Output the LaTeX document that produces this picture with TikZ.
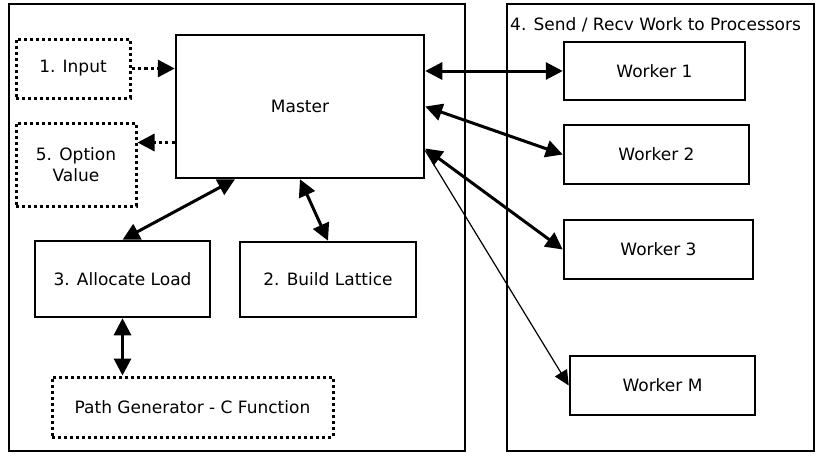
\documentclass[tikz,border=0pt]{standalone}
\usepackage{fontspec}
\setmainfont{DejaVu Sans}
\usepackage{tikz}
\usetikzlibrary{arrows.meta}

\tikzset{
  box/.style={draw, line width=2.5pt, inner sep=0pt, align=center,
    font=\fontsize{17}{21}\selectfont},
  dotbox/.style={box, line width=3pt, dash pattern=on 3pt off 3pt},
  frame/.style={draw, line width=2.5pt},
  link/.style={line width=3pt, {Triangle[length=17pt,width=17pt]}-{Triangle[length=17pt,width=17pt]}},
  dotlink/.style={line width=3.2pt, dash pattern=on 3.2pt off 3.2pt, -{Triangle[length=17pt,width=17pt]}},
  thinlink/.style={line width=1.2pt, -{Triangle[length=15pt,width=14pt]}}
}

\begin{document}
\begin{tikzpicture}[x=1pt,y=-1pt]
    \useasboundingbox (0,0) rectangle (816,455);
    % frames
    \draw[frame] (9,4) rectangle (465,451);
    \draw[frame] (507,4) rectangle (814,451);
    \node[anchor=west, inner sep=0pt, font=\fontsize{17}{21}\selectfont] (title) at (510,25) {4. Send / Recv Work to Processors};
    % master side
    \node[box, minimum width=248pt, minimum height=143pt] (master) at (300,106.5) {Master};
    \node[dotbox, minimum width=114pt, minimum height=59pt] (input) at (73,68.5) {1. Input};
    \node[dotbox, minimum width=120pt, minimum height=83pt] (option) at (76,164.5) {5. Option\\Value};
    \node[box, minimum width=175pt, minimum height=76pt] (alloc) at (122.5,279) {3. Allocate Load};
    \node[box, minimum width=176pt, minimum height=75pt] (lattice) at (328,279.5) {2. Build Lattice};
    \node[dotbox, minimum width=281pt, minimum height=60pt] (pathgen) at (192.5,407) {Path Generator - C Function};
    % workers
    \node[box, minimum width=181pt, minimum height=58pt] (w_1) at (654.5,71) {Worker 1};
    \node[box, minimum width=185pt, minimum height=59pt] (w_2) at (656.5,154.5) {Worker 2};
    \node[box, minimum width=189pt, minimum height=59pt] (w_3) at (658.5,249.5) {Worker 3};
    \node[box, minimum width=185pt, minimum height=59pt] (w_M) at (662.5,385.5) {Worker M};
    % links
    \draw[dotlink] (input.east) -- (input.east -| master.west);
    \draw[dotlink] ([yshift=-36pt]master.west) -- ([yshift=-36pt]master.west -| option.east);
    \draw[link] ([xshift=-65pt]master.south) -- (alloc.north);
    \draw[link] (master.south) -- (lattice.north);
    \draw[link] (alloc.south) -- (alloc.south |- pathgen.north);
    \draw[link] (w_1.west -| master.east) -- (w_1.west);
    \draw[link] (master.east) -- (w_2.west);
    \draw[link] ([yshift=-42pt]master.east) -- (w_3.west);
    \draw[thinlink] ([yshift=-44pt]master.east) -- (w_M.west);
\end{tikzpicture}
\end{document}
